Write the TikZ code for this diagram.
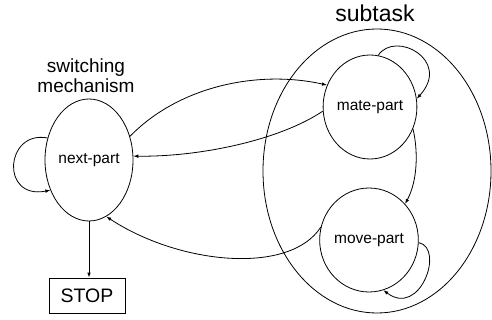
\documentclass[tikz,border=0pt]{standalone}
\usepackage{fontspec}
\setmainfont{Liberation Sans}
\usetikzlibrary{arrows.meta,shapes.geometric}
\begin{document}
\begin{tikzpicture}[x=1pt,y=-1pt,
  line width=0.8pt,
  state/.style={draw,ellipse,inner sep=0pt,font=\fontsize{15.5}{18}\selectfont},
  lbl/.style={inner sep=0pt,align=center},
  arr/.style={-{Latex[length=5pt,width=3.6pt]}}]
\useasboundingbox (0,0) rectangle (492,320);
\node[draw,ellipse,minimum width=228pt,minimum height=284pt,inner sep=0pt] (sub) at (377,171) {};
\node[state,minimum width=88pt,minimum height=122pt] (np) at (89,160) {next-part};
\node[state,minimum width=76pt,minimum height=104pt] (mate) at (370,107) {mate-part};
\node[state,minimum width=74pt,minimum height=104pt] (move) at (369,240) {move-part};
\node[draw,rectangle,minimum width=76pt,minimum height=35pt,inner sep=0pt,font=\fontsize{19.5}{22}\selectfont] (stop) at (87,295.5) {STOP};
\node[lbl,font=\fontsize{19}{20}\selectfont] (sw) at (86,76) {switching\\mechanism};
\node[lbl,font=\fontsize{23}{26}\selectfont] (st) at (375,13) {subtask};
% edges
\draw[arr] (np.30) .. controls (180,85) and (260,70) .. (mate.153);
\draw[arr] (mate.185) .. controls (280,140) and (200,157) .. (np.5);
\draw[arr] (move.165) .. controls (290,275) and (180,265) .. (np.-73);
\draw[arr] (mate.-27) .. controls (418,150) and (418,180) .. (move.45);
\draw[arr] (np.152) .. controls (5,130) and (0,200) .. (np.218);
\draw[arr] (mate.81) .. controls (395,30) and (452,60) .. (mate.10);
\draw[arr] (move.-3) .. controls (445,248) and (420,318) .. (move.-74);
\draw[arr] (np.south) -- (np.south |- stop.north);
\end{tikzpicture}
\end{document}
